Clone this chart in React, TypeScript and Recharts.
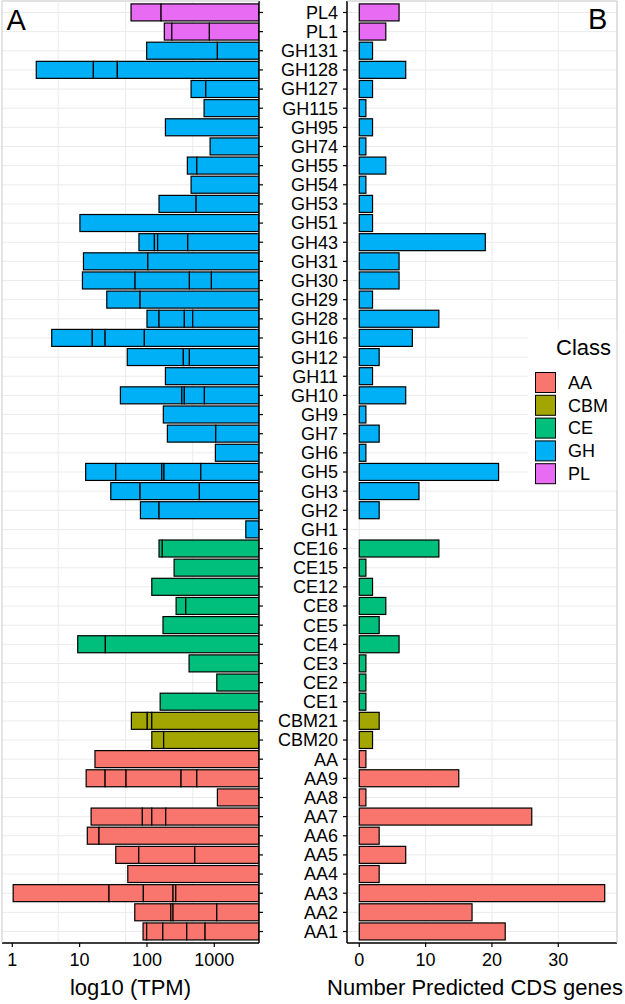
import React from 'react';
import { BarChart, Bar, XAxis, YAxis, CartesianGrid, Legend } from 'recharts';

// ---------- data ----------
const families = ['PL4','PL1','GH131','GH128','GH127','GH115','GH95','GH74','GH55','GH54','GH53','GH51','GH43','GH31','GH30','GH29','GH28','GH16','GH12','GH11','GH10','GH9','GH7','GH6','GH5','GH3','GH2','GH1','CE16','CE15','CE12','CE8','CE5','CE4','CE3','CE2','CE1','CBM21','CBM20','AA','AA9','AA8','AA7','AA6','AA5','AA4','AA3','AA2','AA1'];

const geneCounts = [6,4,2,7,2,1,2,1,4,1,2,2,19,6,6,2,12,8,3,2,7,1,3,1,21,9,3,0,12,1,2,4,3,6,1,1,1,3,2,1,15,1,26,3,7,3,37,17,22];

// segment boundaries (TPM, left edges of each stacked segment)
const tpmBreaks: number[][] = [
  [58, 162],
  [181, 234, 846],
  [99, 1112],
  [2.27, 16, 36.3],
  [452, 748],
  [705],
  [188],
  [866],
  [398, 550],
  [452],
  [151, 537],
  [10.1],
  [76, 129, 144, 404],
  [11.4, 103],
  [11, 66.5, 427, 906],
  [25.3, 79],
  [100, 151, 359, 478],
  [3.85, 15.4, 23.9, 91.4],
  [51, 347, 427],
  [188],
  [40.3, 329, 359, 713],
  [175],
  [201, 1052],
  [1038],
  [12.3, 34.4, 166, 179, 630],
  [29, 79, 601],
  [80, 151],
  [2938],
  [151, 169],
  [253],
  [118],
  [271, 377],
  [173],
  [9.37, 24.1],
  [422],
  [1089],
  [157],
  [58.7, 101, 118],
  [118, 177],
  [16.9],
  [12.5, 23.9, 48.9, 321, 550],
  [1112],
  [14.8, 85.5, 118, 190],
  [13, 19.4],
  [34.4, 75.5, 513],
  [51.9],
  [1.03, 27.3, 88.4, 244, 268],
  [65.9, 226, 244, 1089],
  [87.5, 99, 172, 390, 730],
];

const classes = ['AA', 'CBM', 'CE', 'GH', 'PL'];
const classColors = ['#F8766D', '#A3A500', '#00BF7D', '#00B0F6', '#E76BF3'];

const tpmTicks = [1, 10, 100, 1000];
const tpmGrid = [4.8, 48, 480];
const tpmDomain = [0.703, 4613];
const countTicks = [0, 10, 20, 30];
const countDomain = [-1.85, 38.85];

// ---------- build table ----------
const MAX_SEG = 6;
const segKeys = Array.from({ length: MAX_SEG }, (_, k) => 's' + k);
const classOf = (f: string) => (f.match(/^[A-Z]+/) || [''])[0];
const colorOf = (c: string) => classColors[classes.indexOf(c)];

const rows = families.map((f, i) => {
  const b = tpmBreaks[i];
  const row: any = { family: f, cls: classOf(f), count: geneCounts[i] };
  segKeys.forEach((k, j) => {
    row[k] = j < b.length ? [b[j], j + 1 < b.length ? b[j + 1] : tpmDomain[1]] : null;
  });
  return row;
});

const FONT = '"Liberation Sans", Arial, Helvetica, sans-serif';
const BAR = 17;
const PAD = 1.91;

const SegShape = (props: any) => {
  const { x, y, width, height, payload } = props;
  if (![x, y, width, height].every((v) => Number.isFinite(v)) || width <= 0) return null;
  return <rect x={x} y={y} width={width} height={height} fill={colorOf(payload.cls)} stroke="#000" strokeWidth={1.2} />;
};

const LegendBox = () => (
  <svg width={90} height={160} style={{ display: 'block' }}>
    <rect x={0} y={0} width={90} height={160} fill="#fff" />
    <text x={28} y={25} fontSize={22} fill="#000" fontFamily={FONT}>Class</text>
    {classes.map((c, i) => (
      <g key={c}>
        <rect x={7.5} y={42.5 + i * 22.8} width={20} height={20} fill={classColors[i]} stroke="#000" strokeWidth={1} />
        <text x={40} y={52.5 + i * 22.8} dy="0.355em" fontSize={18} fill="#000" fontFamily={FONT}>{c}</text>
      </g>
    ))}
  </svg>
);

export default function App() {
  return (
    <div style={{ position: 'absolute', left: 0, top: 0, width: 625, height: 1004, background: '#fff', fontFamily: FONT }}>
      <div style={{ position: 'absolute', left: 0, top: 0 }}>
        <BarChart
          layout="vertical"
          width={270}
          height={1004}
          data={rows}
          margin={{ top: 1, right: 0, bottom: 0, left: 2 }}
          barGap={-BAR}
          barCategoryGap={0}
        >
          <CartesianGrid stroke="#EBEBEB" verticalValues={tpmGrid} />
          <XAxis
            type="number"
            scale="log"
            domain={tpmDomain}
            allowDataOverflow
            ticks={tpmTicks}
            interval={0}
            height={61}
            tickSize={4}
            tickMargin={6}
            tick={{ fontSize: 18, fill: '#000' }}
            axisLine={{ stroke: '#000', strokeWidth: 1.5 }}
            tickLine={{ stroke: '#000', strokeWidth: 1.2 }}
            label={{ value: 'log10 (TPM)', position: 'insideBottom', offset: 9, fontSize: 22, fill: '#000' }}
          />
          <YAxis
            type="category"
            dataKey="family"
            orientation="right"
            width={11}
            interval={0}
            tickSize={4}
            tickFormatter={() => ''}
            padding={{ top: PAD, bottom: PAD }}
            axisLine={{ stroke: '#000', strokeWidth: 1.5 }}
            tickLine={{ stroke: '#000', strokeWidth: 1.2 }}
          />
          {segKeys.map((k) => (
            <Bar key={k} dataKey={k} barSize={BAR} isAnimationActive={false} shape={SegShape} />
          ))}
        </BarChart>
      </div>
      <div style={{ position: 'absolute', left: 270, top: 0 }}>
        <BarChart
          layout="vertical"
          width={355}
          height={1004}
          data={rows}
          margin={{ top: 1, right: 8, bottom: 0, left: 0 }}
        >
          <CartesianGrid stroke="#EBEBEB" />
          <XAxis
            type="number"
            domain={countDomain}
            allowDataOverflow
            ticks={countTicks}
            interval={0}
            height={61}
            tickSize={4}
            tickMargin={6}
            tick={{ fontSize: 18, fill: '#000' }}
            axisLine={{ stroke: '#000', strokeWidth: 1.5 }}
            tickLine={{ stroke: '#000', strokeWidth: 1.2 }}
            label={{ value: 'Number Predicted CDS genes', position: 'insideBottom', offset: 9, dx: -7, fontSize: 22, fill: '#000' }}
          />
          <YAxis
            type="category"
            dataKey="family"
            width={77}
            interval={0}
            tickSize={4}
            tickMargin={5}
            tick={{ fontSize: 18, fill: '#000' }}
            padding={{ top: PAD, bottom: PAD }}
            axisLine={{ stroke: '#000', strokeWidth: 1.5 }}
            tickLine={{ stroke: '#000', strokeWidth: 1.2 }}
          />
          <Bar dataKey="count" barSize={BAR} isAnimationActive={false} shape={SegShape} />
          <Legend
            layout="vertical"
            align="center"
            verticalAlign="middle"
            wrapperStyle={{ left: 258, top: 330, width: 90, height: 160 }}
            content={() => <LegendBox />}
          />
        </BarChart>
      </div>
      <svg width={625} height={1004} style={{ position: 'absolute', left: 0, top: 0, pointerEvents: 'none' }}>
        <line x1={2} y1={1} x2={259} y2={1} stroke="#CCCCCC" strokeWidth={1} />
        <line x1={2} y1={1} x2={2} y2={943} stroke="#CCCCCC" strokeWidth={1} />
        <line x1={347} y1={1} x2={617} y2={1} stroke="#CCCCCC" strokeWidth={1} />
        <line x1={617} y1={1} x2={617} y2={943} stroke="#CCCCCC" strokeWidth={1} />
        <text x={6.5} y={30} fontSize={29} fill="#000" fontFamily={FONT}>A</text>
        <text x={588} y={29} fontSize={29} fill="#000" fontFamily={FONT}>B</text>
      </svg>
    </div>
  );
}
